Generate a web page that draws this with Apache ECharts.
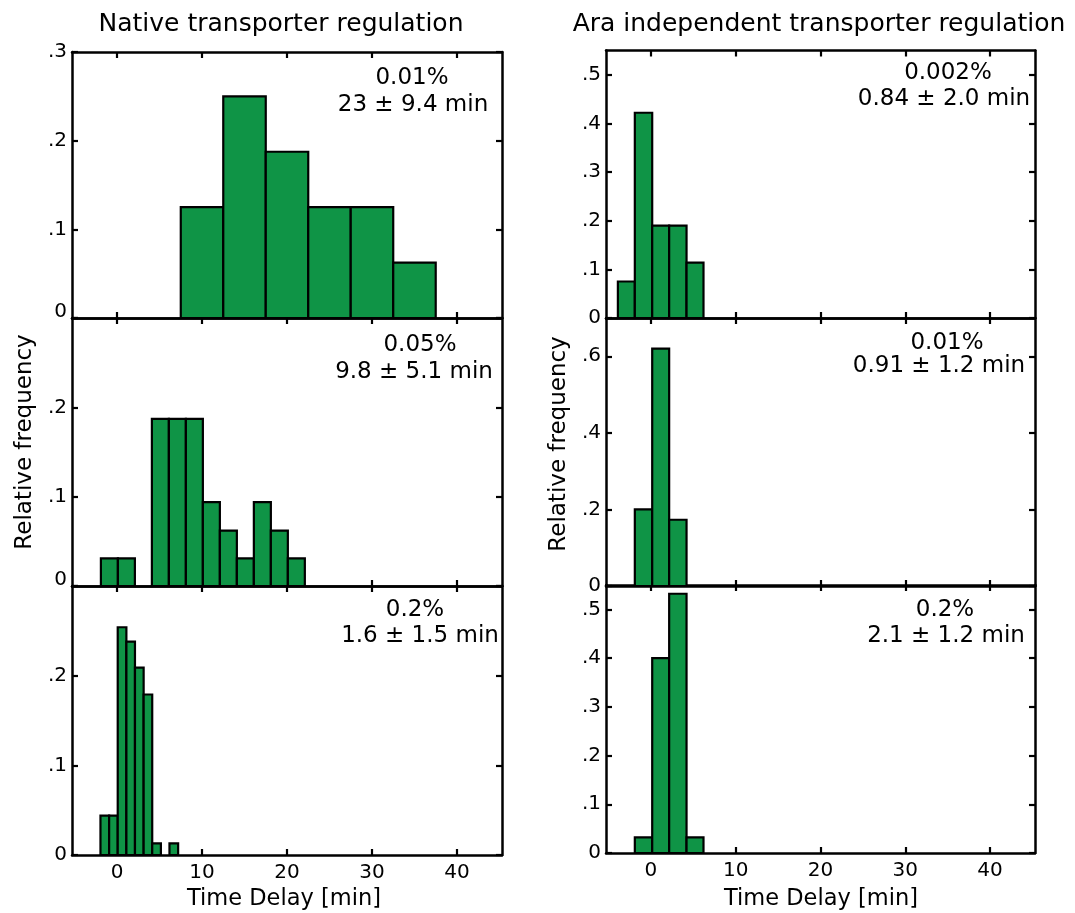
<!DOCTYPE html>
<html>
<head>
<meta charset="utf-8">
<title>Time delay histograms</title>
<script src="https://cdn.jsdelivr.net/npm/echarts@6/dist/echarts.min.js"></script>
<style>
  html, body { margin: 0; padding: 0; background: #ffffff; }
  #chart { width: 1075px; height: 913px; }
</style>
</head>
<body>
<div id="chart"></div>
<script>
// ---- data: bin edges [min] and relative frequency per bin ----
const nativeEdges001 = [7.5, 12.5, 17.5, 22.5, 27.5, 32.5, 37.5];
const nativeFreq001  = [0.125, 0.25, 0.1875, 0.125, 0.125, 0.0625];

const nativeEdges005 = [-1.9, 0.1, 2.1, 4.1, 6.1, 8.1, 10.1, 12.1, 14.1, 16.1, 18.1, 20.1, 22.1];
const nativeFreq005  = [0.031, 0.031, 0, 0.187, 0.187, 0.187, 0.094, 0.062, 0.031, 0.094, 0.062, 0.031];

const nativeEdges02 = [-1.95, -0.93, 0.08, 1.1, 2.11, 3.13, 4.14, 5.16, 6.17, 7.19];
const nativeFreq02  = [0.044, 0.044, 0.254, 0.238, 0.209, 0.179, 0.013, 0, 0.013];

const araEdges0002 = [-3.9, -1.9, 0.15, 2.15, 4.2, 6.2];
const araFreq0002  = [0.075, 0.422, 0.19, 0.19, 0.114];

const araEdges001 = [-1.9, 0.15, 2.15, 4.2];
const araFreq001  = [0.2, 0.62, 0.173];

const araEdges02 = [-1.9, 0.15, 2.15, 4.2, 6.2];
const araFreq02  = [0.032, 0.4, 0.532, 0.032];

// ---- labels ----
const columnTitles = ['Native transporter regulation', 'Ara independent transporter regulation'];
const nativeConc  = ['0.01%', '0.05%', '0.2%'];
const nativeDelay = ['23 \u00b1 9.4 min', '9.8 \u00b1 5.1 min', '1.6 \u00b1 1.5 min'];
const araConc     = ['0.002%', '0.01%', '0.2%'];
const araDelay    = ['0.84 \u00b1 2.0 min', '0.91 \u00b1 1.2 min', '2.1 \u00b1 1.2 min'];
const xTicks = [0, 10, 20, 30, 40];
const xName = 'Time Delay [min]';
const yName = 'Relative frequency';

// y ticks / labels for each panel
const nativeYTicks = [0, 0.1, 0.2, 0.3];
const araYTicksTop = [0, 0.1, 0.2, 0.3, 0.4, 0.5];
const araYTicksMid = [0, 0.2, 0.4, 0.6];
const araYTicksBot = [0, 0.1, 0.2, 0.3, 0.4, 0.5];

const FONT = 'DejaVu Sans';
const GREEN = '#0f9446';
const X_MIN = -5.3, X_MAX = 45.3;

// panel layout (pixels)
const colLeft = [72, 606];
const colWidth = [430, 429];
const rowsLeft  = [[52, 266], [318, 268], [586, 269]];
const rowsRight = [[50.5, 267.5], [318, 268], [585, 268]];

const panels = [
  { col: 0, row: 0, edges: nativeEdges001, freq: nativeFreq001, yMax: 0.3, ticks: nativeYTicks, labels: [0, 0.1, 0.2, 0.3], liftZero: true },
  { col: 0, row: 1, edges: nativeEdges005, freq: nativeFreq005, yMax: 0.3, ticks: nativeYTicks, labels: [0, 0.1, 0.2], liftZero: true },
  { col: 0, row: 2, edges: nativeEdges02,  freq: nativeFreq02,  yMax: 0.3, ticks: nativeYTicks, labels: [0, 0.1, 0.2], liftZero: false },
  { col: 1, row: 0, edges: araEdges0002, freq: araFreq0002, yMax: 0.55, ticks: araYTicksTop, labels: araYTicksTop, liftZero: false },
  { col: 1, row: 1, edges: araEdges001,  freq: araFreq001,  yMax: 0.7,  ticks: araYTicksMid, labels: araYTicksMid, liftZero: false },
  { col: 1, row: 2, edges: araEdges02,   freq: araFreq02,   yMax: 0.55, ticks: araYTicksBot, labels: araYTicksBot, liftZero: false }
];

function fmtFrac(v) {
  if (Math.abs(v) < 1e-9) return '0';
  return String(+v.toFixed(2)).replace(/^0/, '');
}

const grid = [], xAxis = [], yAxis = [], series = [];

const frameLine = { show: true, onZero: false, lineStyle: { color: '#000', width: 2.5 } };
const tickStyle = { lineStyle: { color: '#000', width: 2.2 } };

panels.forEach((p, i) => {
  const rows = p.col === 0 ? rowsLeft : rowsRight;
  const [top, height] = rows[p.row];
  grid.push({ left: colLeft[p.col], top: top, width: colWidth[p.col], height: height });

  const isBottom = p.row === 2;
  // bottom axis (carries labels on the bottom row)
  xAxis.push({
    type: 'value', gridIndex: i, position: 'bottom', min: X_MIN, max: X_MAX,
    axisLine: frameLine,
    axisTick: { show: true, inside: true, length: 6, customValues: xTicks, ...tickStyle },
    axisLabel: {
      show: isBottom, customValues: xTicks, margin: 8,
      fontFamily: FONT, fontSize: 20, color: '#000'
    },
    splitLine: { show: false }
  });
  // top frame edge
  xAxis.push({
    type: 'value', gridIndex: i, position: 'top', min: X_MIN, max: X_MAX,
    axisLine: frameLine,
    axisTick: { show: true, inside: true, length: 6, customValues: xTicks, ...tickStyle },
    axisLabel: { show: false },
    splitLine: { show: false }
  });
  // left axis with fraction labels
  yAxis.push({
    type: 'value', gridIndex: i, position: 'left', min: 0, max: p.yMax,
    axisLine: frameLine,
    axisTick: { show: true, inside: true, length: 6, customValues: p.ticks, ...tickStyle },
    axisLabel: {
      show: true, customValues: p.labels, margin: 5,
      fontFamily: FONT, fontSize: 20, color: '#000',
      formatter: v => (p.liftZero && Math.abs(v) < 1e-9) ? '{lift|0}' : fmtFrac(v),
      rich: { lift: { fontFamily: FONT, fontSize: 20, color: '#000', padding: [0, 0, 13, 0] } }
    },
    splitLine: { show: false }
  });
  // right frame edge
  yAxis.push({
    type: 'value', gridIndex: i, position: 'right', min: 0, max: p.yMax,
    axisLine: frameLine,
    axisTick: { show: true, inside: true, length: 6, customValues: p.ticks, ...tickStyle },
    axisLabel: { show: false },
    splitLine: { show: false }
  });

  // histogram bins as [left edge, right edge, frequency]
  const bins = [];
  for (let k = 0; k < p.freq.length; k++) {
    if (p.freq[k] > 0) bins.push([p.edges[k], p.edges[k + 1], p.freq[k]]);
  }
  series.push({
    type: 'custom',
    coordinateSystem: 'cartesian2d',
    xAxisIndex: 2 * i,
    yAxisIndex: 2 * i,
    data: bins,
    encode: { x: [0, 1], y: 2 },
    clip: true,
    z: 1,
    renderItem: function (params, api) {
      const a = api.coord([api.value(0), 0]);
      const b = api.coord([api.value(1), api.value(2)]);
      return {
        type: 'rect',
        shape: { x: a[0], y: b[1], width: b[0] - a[0], height: a[1] - b[1] },
        style: { fill: GREEN, stroke: '#000', lineWidth: 2.2 }
      };
    }
  });
});

// text placed on the page: titles, annotations, axis names
function txt(x, y, text, size, rotation) {
  return {
    type: 'text', x: x, y: y, rotation: rotation || 0, z: 10,
    style: { text: text, fontFamily: FONT, fontSize: size, fill: '#000', align: 'center', verticalAlign: 'middle' }
  };
}

const nativeAnnoPos = [[[412, 78], [413, 105]], [[420, 345], [414, 372]], [[415, 610], [420, 636]]];
const araAnnoPos    = [[[948, 73], [944, 99]], [[947, 343], [939, 366]], [[945, 610], [946, 636]]];

const graphic = [
  txt(281, 24, columnTitles[0], 25),
  txt(819, 24, columnTitles[1], 25),
  txt(284, 899, xName, 22.5),
  txt(821, 899, xName, 22.5),
  txt(25, 442, yName, 23, Math.PI / 2),
  txt(559, 444, yName, 23, Math.PI / 2)
];
for (let r = 0; r < 3; r++) {
  graphic.push(txt(nativeAnnoPos[r][0][0], nativeAnnoPos[r][0][1], nativeConc[r], 23));
  graphic.push(txt(nativeAnnoPos[r][1][0], nativeAnnoPos[r][1][1], nativeDelay[r], 23));
  graphic.push(txt(araAnnoPos[r][0][0], araAnnoPos[r][0][1], araConc[r], 23));
  graphic.push(txt(araAnnoPos[r][1][0], araAnnoPos[r][1][1], araDelay[r], 23));
}

const chart = echarts.init(document.getElementById('chart'), null, { renderer: 'canvas' });
chart.setOption({
  backgroundColor: '#ffffff',
  animation: false,
  grid: grid,
  xAxis: xAxis,
  yAxis: yAxis,
  series: series,
  graphic: graphic
});
</script>
</body>
</html>
